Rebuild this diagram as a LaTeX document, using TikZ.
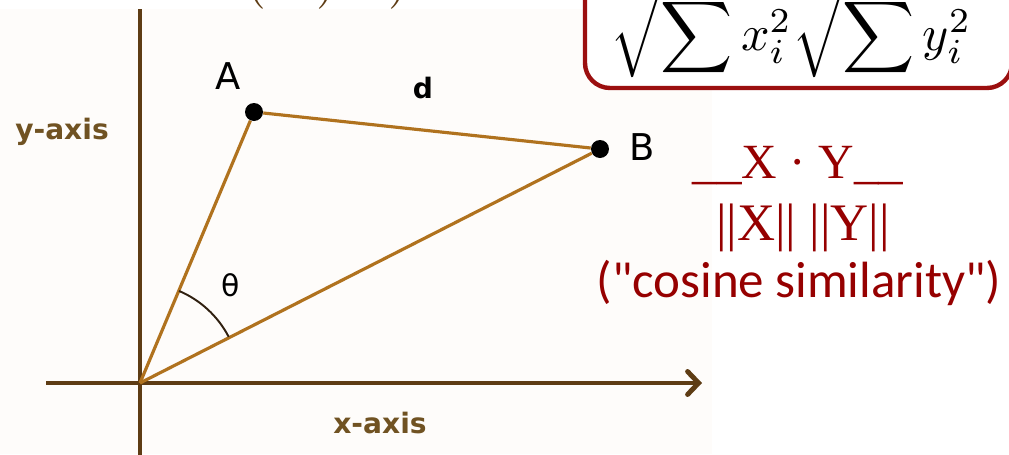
\documentclass[tikz,border=0pt]{standalone}
\usepackage{fontspec}
\newfontfamily\plotfont{DejaVu Sans}
\newfontfamily\calfont{Carlito}
\newfontfamily\timesfont{Liberation Serif}
\usetikzlibrary{arrows.meta}
\definecolor{axisbrown}{RGB}{94,60,20}
\definecolor{vecbrown}{RGB}{176,114,30}
\definecolor{labelbrown}{RGB}{112,82,34}
\definecolor{darkred}{RGB}{150,0,0}
\definecolor{boxred}{RGB}{155,15,15}
\definecolor{paper}{RGB}{254,252,250}

\begin{document}
\begin{tikzpicture}[
  x=0.02cm, y=-0.02cm,
  axis/.style={draw=axisbrown, line width=2.8pt},
  vec/.style={draw=vecbrown, line width=1.8pt},
  point/.style={circle, fill=black, minimum size=0.36cm, inner sep=0pt},
  ptlabel/.style={font=\plotfont\fontsize{21}{25}\selectfont},
  axislabel/.style={font=\plotfont\bfseries\fontsize{16}{19}\selectfont, text=labelbrown},
  redtext/.style={text=darkred, inner sep=0pt, anchor=base},
]
\useasboundingbox (0,0) rectangle (1009,454);
\clip (0,0) rectangle (1009,454);

% plot background
\fill[paper] (0,9) rectangle (712,454);

% cut-off text at the top
\node[anchor=base west, inner sep=0pt, text=axisbrown] (toptext) at (246,-4)
  {\scalebox{2.9}{$(\hspace{0.35cm})\hspace{0.36cm})$}};

% axes
\coordinate (O) at (140,383);
\coordinate (ytop) at (140,9);
\coordinate (ybot) at (140,460);
\coordinate (xleft) at (46,383);
\coordinate (xright) at (702,383);
\draw[axis] (ybot) -- (ytop);
\draw[axis, -{Straight Barb[length=2.2mm, width=4.6mm, line cap=round]}] (xleft) -- (xright);

% points and vectors
\node[point] (A) at (254,112) {};
\node[point] (B) at (600,149) {};
\draw[vec] (O) -- (A);
\draw[vec] (O) -- (B);
\draw[vec] (A) -- (B);

% angle
\draw[line width=1.1pt, black!75!brown] (O) ++(-67:100) arc[start angle=-67, end angle=-27.5, radius=100];

% labels
\node[ptlabel] (lA) at (228,76) {A};
\node[ptlabel] (lB) at (642,147) {B};
\node[font=\plotfont\bfseries\fontsize{16}{19}\selectfont] (ld) at (423,88) {d};
\node[font=\plotfont\fontsize{17}{20}\selectfont] (ltheta) at (231,285) {θ};
\node[axislabel] (ly) at (62,132) {y-axis};
\node[axislabel] (lx) at (380,423) {x-axis};

% denominator box
\draw[boxred, line width=2.5pt, fill=white, rounded corners=0.5cm] (585,-40) rectangle (1012,88);
\node[anchor=base, inner sep=0pt] (norms) at (791,50)
  {\scalebox{2.85}{$\displaystyle\sqrt{\sum x_i^2}\sqrt{\sum y_i^2}$}};

% cosine formula
\node[redtext, font=\timesfont\fontsize{28}{32}\selectfont] (num) at (798,178) {\_\_X · Y\_\_};
\node[redtext, font=\timesfont\fontsize{30}{34}\selectfont] (den) at (803,240) {||X|| ||Y||};
\node[redtext, font=\calfont\fontsize{29}{34}\selectfont] (note) at (799,297) {("cosine similarity")};
\end{tikzpicture}
\end{document}
